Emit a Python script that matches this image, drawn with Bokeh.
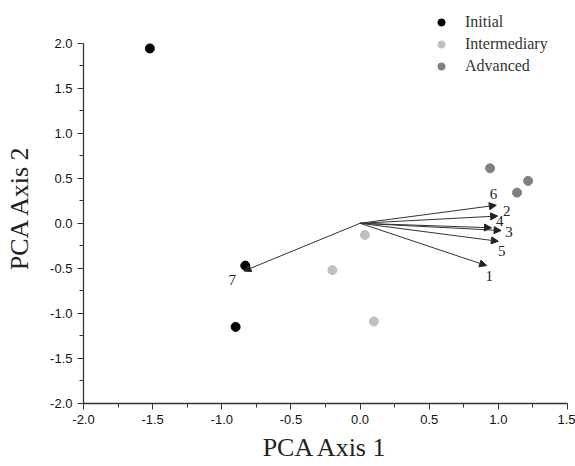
from bokeh.plotting import figure
from bokeh.models import (ColumnDataSource, Arrow, NormalHead, Legend, LegendItem,
                          FixedTicker, NumeralTickFormatter)
from bokeh.core.properties import value
from bokeh.embed import file_html
from bokeh.resources import INLINE

# ---- data ----
initial_x = [-1.52, -0.83, -0.90]
initial_y = [1.94, -0.47, -1.15]
inter_x = [0.035, -0.20, 0.10]
inter_y = [-0.13, -0.52, -1.09]
adv_x = [0.94, 1.215, 1.135]
adv_y = [0.61, 0.47, 0.34]

arrow_labels = ["1", "2", "3", "4", "5", "6", "7"]
arrow_x = [0.915, 0.995, 1.02, 0.95, 1.00, 0.985, -0.84]
arrow_y = [-0.47, 0.08, -0.08, -0.05, -0.20, 0.20, -0.53]
label_x = [0.935, 1.06, 1.077, 1.01, 1.025, 0.964, -0.924]
label_y = [-0.59, 0.133, -0.10, 0.02, -0.31, 0.33, -0.63]

x_ticks = [-2.0, -1.5, -1.0, -0.5, 0.0, 0.5, 1.0, 1.5]
y_ticks = [-2.0, -1.5, -1.0, -0.5, 0.0, 0.5, 1.0, 1.5, 2.0]

serif = "Liberation Serif"
sans = "Liberation Sans"

p = figure(width=575, height=466, x_range=(-2.0, 1.5), y_range=(-2.0, 2.35),
           output_backend="svg", toolbar_location=None,
           frame_width=484, frame_height=392,
           min_border_left=83, min_border_right=8, min_border_top=11, min_border_bottom=63)
p.outline_line_color = None
p.xgrid.grid_line_color = None
p.ygrid.grid_line_color = None
p.background_fill_color = "white"

for ax, ticks in ((p.xaxis, x_ticks), (p.yaxis, y_ticks)):
    ax.ticker = FixedTicker(ticks=ticks,
                            minor_ticks=[t + 0.25 for t in ticks[:-1]])
    ax.formatter = NumeralTickFormatter(format="0.0")
    ax.axis_line_color = "#333333"
    ax.axis_line_width = 1.3
    ax.major_tick_line_color = "#333333"
    ax.minor_tick_line_color = "#333333"
    ax.major_tick_in = 0
    ax.major_tick_out = 6
    ax.minor_tick_in = 0
    ax.minor_tick_out = 4
    ax.major_label_text_font = sans
    ax.major_label_text_font_size = "13px"
    ax.major_label_text_color = "#111111"
    ax.axis_label_text_font = serif
    ax.axis_label_text_font_size = "26px"
    ax.axis_label_text_font_style = "normal"
    ax.axis_label_text_color = "#222222"

p.yaxis.bounds = (-2.0, 2.0)
p.xaxis.axis_label = "PCA Axis 1"
p.yaxis.axis_label = "PCA Axis 2"
p.xaxis.axis_label_standoff = 6
p.yaxis.axis_label_standoff = 13
p.yaxis.major_label_standoff = 5
p.xaxis.major_label_standoff = 5

# arrows
asrc = ColumnDataSource(dict(x0=[0.0] * len(arrow_x), y0=[0.0] * len(arrow_y),
                             x1=arrow_x, y1=arrow_y))
p.add_layout(Arrow(end=NormalHead(size=7, fill_color="#222222", line_color="#222222", line_width=1),
                   x_start="x0", y_start="y0", x_end="x1", y_end="y1", source=asrc,
                   line_color="#333333", line_width=1))

p.text(x=label_x, y=label_y, text=arrow_labels, text_font=value(serif),
       text_font_size="15px", text_color="#222222", text_align="center",
       text_baseline="middle")

r1 = p.scatter(initial_x, initial_y, size=9, color="#000000")
r2 = p.scatter(inter_x, inter_y, size=9, color="#c0c0c0")
r3 = p.scatter(adv_x, adv_y, size=9, color="#808080")

legend = Legend(items=[LegendItem(label="Initial", renderers=[r1]),
                       LegendItem(label="Intermediary", renderers=[r2]),
                       LegendItem(label="Advanced", renderers=[r3])],
                location=(349, 328), border_line_color=None, background_fill_alpha=0,
                padding=0, margin=0, spacing=4, glyph_width=18, glyph_height=18,
                label_height=18, label_standoff=15,
                label_text_font=serif, label_text_font_size="16px",
                label_text_color="#333333")
p.add_layout(legend, "center")

open("out.html", "w").write(file_html(p, INLINE))
